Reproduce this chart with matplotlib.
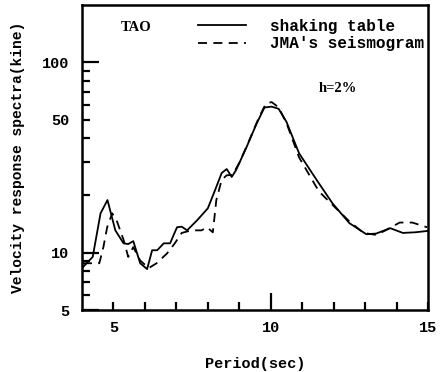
import matplotlib
matplotlib.use("Agg")
import matplotlib.pyplot as plt
from matplotlib.ticker import FixedLocator, NullFormatter

# Data
shaking_period = [4.03, 4.34, 4.59, 4.81, 5.06, 5.32, 5.47, 5.63, 5.85, 6.07, 6.23, 6.39,
                  6.6, 6.8, 7.02, 7.17, 7.34, 7.66, 8.0, 8.23, 8.44, 8.6, 8.76, 8.9,
                  9.23, 9.55, 9.8, 10.03, 10.25, 10.5, 10.9, 11.46, 11.96, 12.5, 13.04,
                  13.35, 13.8, 14.2, 14.6, 14.97]
shaking_vel = [8.4, 9.5, 16.1, 18.9, 13.1, 11.2, 11.1, 11.5, 8.8, 8.2, 10.3, 10.3,
               11.2, 11.2, 13.6, 13.7, 13.1, 14.8, 17.1, 21.3, 26.2, 27.5, 25.0, 27.2,
               35.8, 47.6, 57.9, 58.5, 57.0, 48.7, 33.3, 24.1, 18.2, 14.3, 12.5,
               12.6, 13.45, 12.7, 12.8, 13.0]

jma_period = [4.03, 4.3, 4.55, 4.68, 4.8, 4.96, 5.1, 5.32, 5.47, 5.63, 5.85, 6.12, 6.37,
              6.7, 6.95, 7.17, 7.48, 7.8, 7.97, 8.16, 8.27, 8.44, 8.6, 8.78, 9.0,
              9.32, 9.63, 9.85, 10.03, 10.25, 10.5, 10.9, 11.53, 12.0, 12.5, 12.95,
              13.35, 13.65, 14.1, 14.5, 14.97]
jma_vel = [8.8, 8.8, 8.8, 10.7, 13.6, 16.1, 14.8, 11.7, 9.5, 10.7, 9.1, 8.3, 8.8,
           9.9, 11.2, 12.7, 13.1, 13.1, 13.6, 12.8, 18.9, 24.1, 25.5, 25.6, 29.6,
           39.0, 51.5, 60.8, 61.8, 58.0, 48.0, 31.7, 21.0, 17.6, 14.6, 12.7,
           12.4, 13.1, 14.4, 14.4, 13.6]

x_ticks = [5, 10, 15]
x_minor = [6, 7, 8, 9, 11, 12, 13, 14]
y_ticks = [5, 10, 50, 100]
y_minor = [6, 7, 8, 9, 20, 30, 40, 60, 70, 80, 90]

mono = "Liberation Mono"
serif = "Liberation Serif"

fig = plt.figure(figsize=(4.41, 3.72), dpi=100)
ax = fig.add_axes([82/441, 62/372, 346/441, 305/372])

ax.plot(shaking_period, shaking_vel, color="black", lw=1.3, label="shaking table")
ax.plot(jma_period, jma_vel, color="black", lw=1.3, ls=(0, (5, 3.5)), label="JMA's seismogram")

ax.set_yscale("log")
ax.set_xlim(4, 15)
ax.set_ylim(5, 200)

ax.xaxis.set_major_locator(FixedLocator(x_ticks))
ax.xaxis.set_minor_locator(FixedLocator(x_minor))
ax.set_xticklabels([str(v) for v in x_ticks], fontfamily=mono, fontsize=11, fontweight="bold")
ax.yaxis.set_major_locator(FixedLocator(y_ticks))
ax.yaxis.set_minor_locator(FixedLocator(y_minor))
ax.yaxis.set_minor_formatter(NullFormatter())
ax.set_yticklabels([str(v) for v in y_ticks], fontfamily=mono, fontsize=11, fontweight="bold")

ax.tick_params(axis="both", which="both", direction="in", width=1.6, color="black")
ax.tick_params(axis="x", which="major", length=6, pad=8)
ax.tick_params(axis="x", which="minor", length=6)
ax.tick_params(axis="y", which="major", length=12, pad=9)
ax.tick_params(axis="y", which="minor", length=6)
ax.xaxis.get_major_ticks()[1].tick1line.set_markersize(12)
ax.yaxis.get_major_ticks()[2].tick1line.set_markersize(6)

for s in ax.spines.values():
    s.set_linewidth(1.8)

ax.set_xlabel("Period(sec)", fontfamily=mono, fontsize=11, fontweight="bold", labelpad=16)
ax.set_ylabel("Velocity response spectra(kine)", fontfamily=mono, fontsize=10.5,
              fontweight="bold", labelpad=12)

leg = ax.legend(loc="upper left", bbox_to_anchor=(0.335, 0.955), frameon=False,
                prop={"family": mono, "size": 11.5, "weight": "bold"}, handlelength=3.0,
                handletextpad=1.5, labelspacing=0.15, borderpad=0, borderaxespad=0)

ax.text(0.112, 0.925, "TAO", transform=ax.transAxes, fontfamily=serif,
        fontweight="bold", fontsize=10.5, va="center", ha="left")
ax.text(0.685, 0.726, "h=2%", transform=ax.transAxes, fontfamily=serif,
        fontweight="bold", fontsize=10.5, va="center", ha="left")

fig.savefig("out.png", dpi=100)
